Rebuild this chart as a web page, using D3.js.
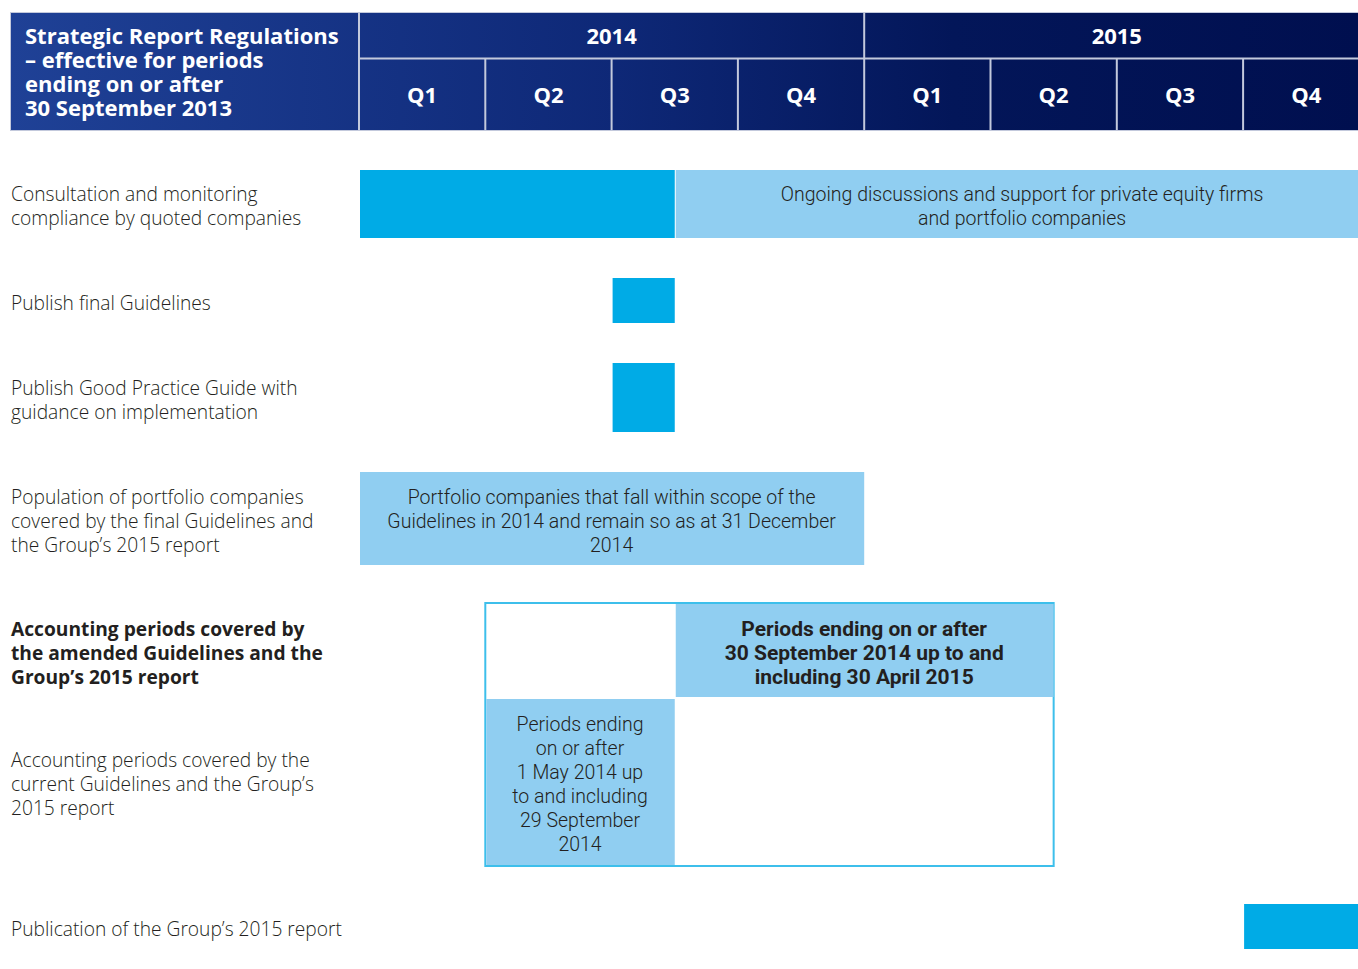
<!DOCTYPE html>
<html>
<head>
<meta charset="utf-8">
<script src="https://cdn.jsdelivr.net/npm/d3@7"></script>
<style>
  body { margin: 0; background: #fff; }
  svg { display: block; }
  .lbl { font-family: "Open Sans", sans-serif; font-weight: 300; font-size: 19.2px; fill: #231f20; }
  .lbl.bold { font-weight: 700; }
  .cell { font-family: Roboto, "Open Sans", sans-serif; font-weight: 300; font-size: 19.5px; fill: #231f20; }
  .cell.bold { font-weight: 700; font-size: 21px; }
  .hdr { font-family: "Open Sans", sans-serif; font-weight: 700; font-size: 22px; fill: #fff; }
</style>
</head>
<body>
<svg id="chart"></svg>
<script>
// data
const years = ["2014", "2015"];
const quarters = ["Q1", "Q2", "Q3", "Q4", "Q1", "Q2", "Q3", "Q4"];
const title = ["Strategic Report Regulations", "– effective for periods", "ending on or after", "30 September 2013"];

const rowLabels = [
  ["Consultation and monitoring", "compliance by quoted companies"],
  ["Publish final Guidelines"],
  ["Publish Good Practice Guide with", "guidance on implementation"],
  ["Population of portfolio companies", "covered by the final Guidelines and", "the Group’s 2015 report"],
  ["Accounting periods covered by", "the amended Guidelines and the", "Group’s 2015 report"],
  ["Accounting periods covered by the", "current Guidelines and the Group’s", "2015 report"],
  ["Publication of the Group’s 2015 report"]
];
const boldRows = [4];

// bars: row, start quarter, end quarter, tone, text lines
const bars = [
  {row: 0, start: 0, end: 2.5, tone: "dark", text: []},
  {row: 0, start: 2.5, end: 8, tone: "light", text: ["Ongoing discussions and support for private equity firms", "and portfolio companies"]},
  {row: 1, start: 2, end: 2.5, tone: "dark", text: []},
  {row: 2, start: 2, end: 2.5, tone: "dark", text: []},
  {row: 3, start: 0, end: 4, tone: "light", text: ["Portfolio companies that fall within scope of the", "Guidelines in 2014 and remain so as at 31 December", "2014"]},
  {row: 4, start: 2.5, end: 5.5, tone: "light", bold: true, text: ["Periods ending on or after", "30 September 2014 up to and", "including 30 April 2015"]},
  {row: 5, start: 1, end: 2.5, tone: "light", text: ["Periods ending", "on or after", "1 May 2014 up", "to and including", "29 September", "2014"]},
  {row: 6, start: 7, end: 8, tone: "dark", text: []}
];
// framed group around the two accounting-period rows
const frame = {rows: [4, 5], start: 1, end: 5.5};

// layout
const width = 1358, height = 969;
const rowTop = [170, 278, 363, 472, 604, 699, 904];
const rowH = [68, 45, 69, 93, 93, 166, 45];
const LINE = 24;
const colors = {dark: "#00abe6", light: "#90cef1", border: "#3dbfeb"};

const svg = d3.select("#chart").attr("width", width).attr("height", height);
const x = d3.scaleLinear().domain([0, 8]).range([359, 359 + 8 * 126.3]);

// header
const defs = svg.append("defs");
const grad = defs.append("linearGradient").attr("id", "hdrGrad")
  .attr("gradientUnits", "userSpaceOnUse")
  .attr("x1", 10).attr("x2", width).attr("y1", 0).attr("y2", 0);
grad.append("stop").attr("offset", 0).attr("stop-color", "#1f4196");
grad.append("stop").attr("offset", 0.45).attr("stop-color", "#0e2877");
grad.append("stop").attr("offset", 0.7).attr("stop-color", "#031659");
grad.append("stop").attr("offset", 1).attr("stop-color", "#000f4f");

const hdr = svg.append("g");
hdr.append("rect").attr("x", 10).attr("y", 12).attr("width", width - 10).attr("height", 119)
  .attr("fill", "url(#hdrGrad)");
const lineCol = "#c3c9dc";
hdr.append("line").attr("x1", x(0)).attr("x2", width).attr("y1", 58.5).attr("y2", 58.5)
  .attr("stroke", lineCol).attr("stroke-width", 2);
hdr.append("line").attr("x1", x(0)).attr("x2", x(0)).attr("y1", 12).attr("y2", 131)
  .attr("stroke", lineCol).attr("stroke-width", 2);
hdr.append("line").attr("x1", 10).attr("x2", width).attr("y1", 130.5).attr("y2", 130.5)
  .attr("stroke", lineCol).attr("stroke-width", 1);
hdr.append("line").attr("x1", 10).attr("x2", width).attr("y1", 12.5).attr("y2", 12.5)
  .attr("stroke", lineCol).attr("stroke-width", 1);
hdr.append("line").attr("x1", 10.5).attr("x2", 10.5).attr("y1", 12).attr("y2", 131)
  .attr("stroke", lineCol).attr("stroke-width", 1);

hdr.selectAll("line.q").data(d3.range(1, 8)).enter().append("line")
  .attr("class", "q")
  .attr("x1", d => x(d)).attr("x2", d => x(d))
  .attr("y1", d => d === 4 ? 12 : 59).attr("y2", 131)
  .attr("stroke", lineCol).attr("stroke-width", 2);

hdr.selectAll("text.yr").data(years).enter().append("text")
  .attr("class", "hdr yr")
  .attr("x", (d, i) => x(i * 4 + 2)).attr("y", 44)
  .attr("text-anchor", "middle").text(d => d);

hdr.selectAll("text.qt").data(quarters).enter().append("text")
  .attr("class", "hdr qt")
  .attr("x", (d, i) => x(i + 0.5)).attr("y", 103)
  .attr("text-anchor", "middle").text(d => d);

hdr.append("text").attr("class", "hdr")
  .selectAll("tspan").data(title).enter().append("tspan")
  .attr("x", 25).attr("y", (d, i) => 44 + i * LINE).text(d => d);

// helper for centred multi-line text
function lines(sel, arr, cx, cy, anchor) {
  const n = arr.length;
  sel.attr("text-anchor", anchor)
    .selectAll("tspan").data(arr).enter().append("tspan")
    .attr("x", cx)
    .attr("y", (d, i) => cy + (i - (n - 1) / 2) * LINE + 8)
    .text(d => d);
}

// row labels
const labels = svg.append("g");
rowLabels.forEach((ls, i) => {
  const t = labels.append("text").attr("class", "lbl" + (boldRows.includes(i) ? " bold" : ""));
  lines(t, ls, 11, rowTop[i] + rowH[i] / 2 + 1, "start");
});

// frame
const f0 = frame.rows[0], f1 = frame.rows[frame.rows.length - 1];
svg.append("rect")
  .attr("x", x(frame.start)).attr("y", rowTop[f0] - 1)
  .attr("width", x(frame.end) - x(frame.start))
  .attr("height", rowTop[f1] + rowH[f1] - rowTop[f0] + 2)
  .attr("fill", "#fff").attr("stroke", colors.border).attr("stroke-width", 2);

// bars
const barG = svg.append("g").selectAll("g").data(bars).enter().append("g");
barG.append("rect")
  .attr("x", d => x(d.start) + 1)
  .attr("y", d => rowTop[d.row])
  .attr("width", d => Math.min(x(d.end), width) - x(d.start) - 1)
  .attr("height", d => rowH[d.row])
  .attr("fill", d => colors[d.tone]);
barG.filter(d => d.text.length).each(function (d) {
  const cx = (x(d.start) + x(d.end)) / 2;
  const t = d3.select(this).append("text").attr("class", "cell" + (d.bold ? " bold" : ""));
  lines(t, d.text, cx, rowTop[d.row] + rowH[d.row] / 2 + 1, "middle");
});
</script>
</body>
</html>
